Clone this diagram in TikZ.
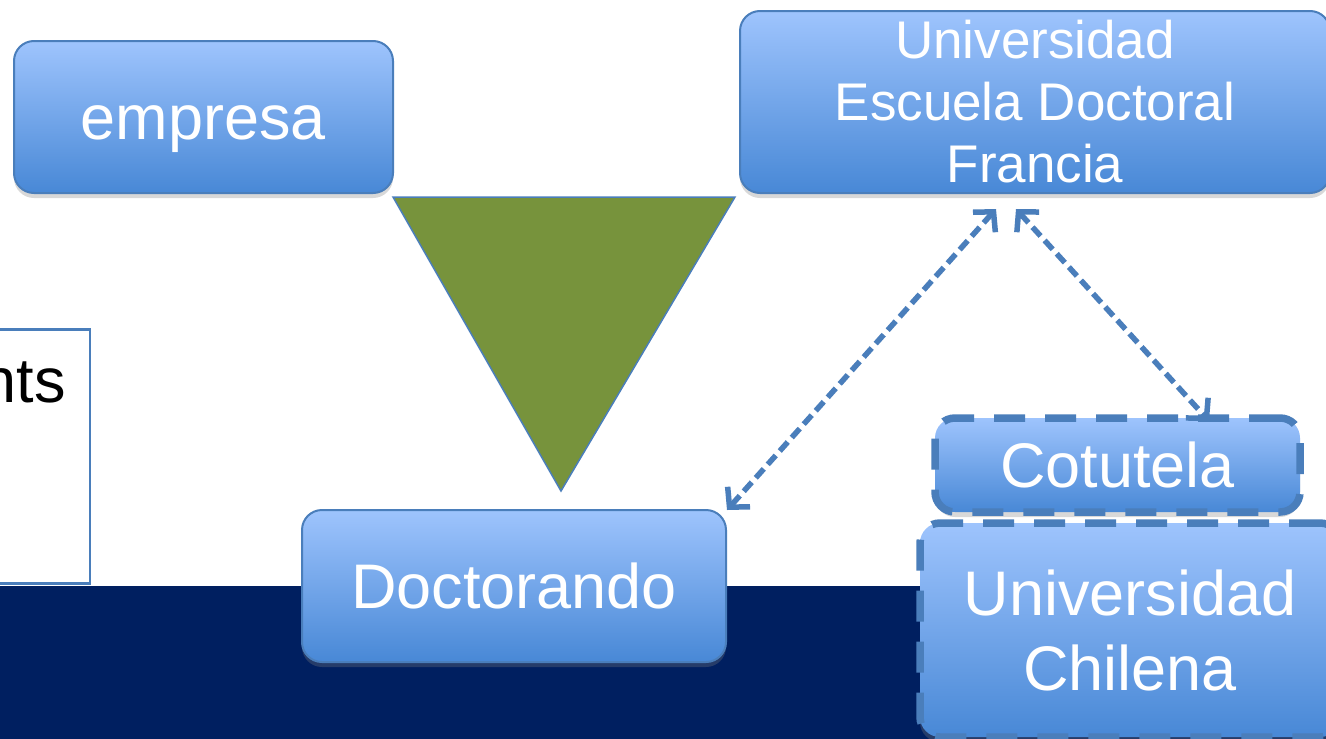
\documentclass[tikz,border=0pt]{standalone}
\usepackage{fontspec}
\setmainfont{Liberation Sans}
\usetikzlibrary{shadows,arrows.meta}
\definecolor{navy}{RGB}{0,31,96}
\definecolor{boxtop}{RGB}{158,196,253}
\definecolor{boxbot}{RGB}{72,136,214}
\definecolor{boxline}{RGB}{74,126,187}
\definecolor{olive}{RGB}{119,147,60}
\tikzset{
  bluebox/.style={draw=boxline, line width=2pt, rounded corners=20pt,
    top color=boxtop, bottom color=boxbot, text=white, align=center,
    inner sep=0pt, drop shadow={opacity=0.3, shadow xshift=0pt, shadow yshift=-5pt}},
  dashbox/.style={bluebox, line width=7.5pt, dash pattern=on 31pt off 20pt},
  link/.style={draw=boxline, line width=5.5pt, dash pattern=on 12pt off 6pt,
    {Straight Barb[length=14pt,width=30pt,line width=5.5pt]}-{Straight Barb[length=14pt,width=30pt,line width=5.5pt]}},
}
\begin{document}
\begin{tikzpicture}[x=1pt,y=-1pt]
\useasboundingbox (0,0) rectangle (1326,739);
\fill[white] (0,0) rectangle (1326,739);
% navy band
\fill[navy] (0,586) rectangle (1326,739);
% left white box
\node[draw=boxline, line width=2.5pt, fill=white, minimum width=100pt, minimum height=254pt, inner sep=0pt, anchor=north east] (leftbox) at (91,328) {};
\node[anchor=east, inner sep=0pt, font=\fontsize{63}{70}\selectfont] (nts) at (66,382) {nts};
% triangle
\draw[boxline, line width=1.5pt, fill=olive] (393,197) -- (735,197) -- (561,491) -- cycle;
% boxes
\node[bluebox, minimum width=379pt, minimum height=152pt, text height=45pt, text depth=0pt, font=\fontsize{63}{70}\selectfont] (emp) at (203.5,117) {empresa};
\node[bluebox, minimum width=590pt, minimum height=182pt, font=\fontsize{53}{62}\selectfont] (ued) at (1035,102) {Universidad\\Escuela Doctoral\\Francia};
\node[bluebox, minimum width=424pt, minimum height=152pt, font=\fontsize{63}{70}\selectfont] (doc) at (514,586) {Doctorando};
\node[dashbox, minimum width=365pt, minimum height=94pt, font=\fontsize{63}{70}\selectfont] (cot) at (1117.5,465) {Cotutela};
\node[dashbox, minimum width=420pt, minimum height=214pt, font=\fontsize{63}{75}\selectfont] (chi) at (1130,630) {Universidad\\Chilena};
% arrows
\coordinate (a1) at (996,209);
\coordinate (a2) at (727,510);
\coordinate (b1) at (1016,209);
\coordinate (b2) at (1209,421);
\draw[link] (a1) -- (a2);
\draw[link] (b1) -- (b2);
\end{tikzpicture}
\end{document}
